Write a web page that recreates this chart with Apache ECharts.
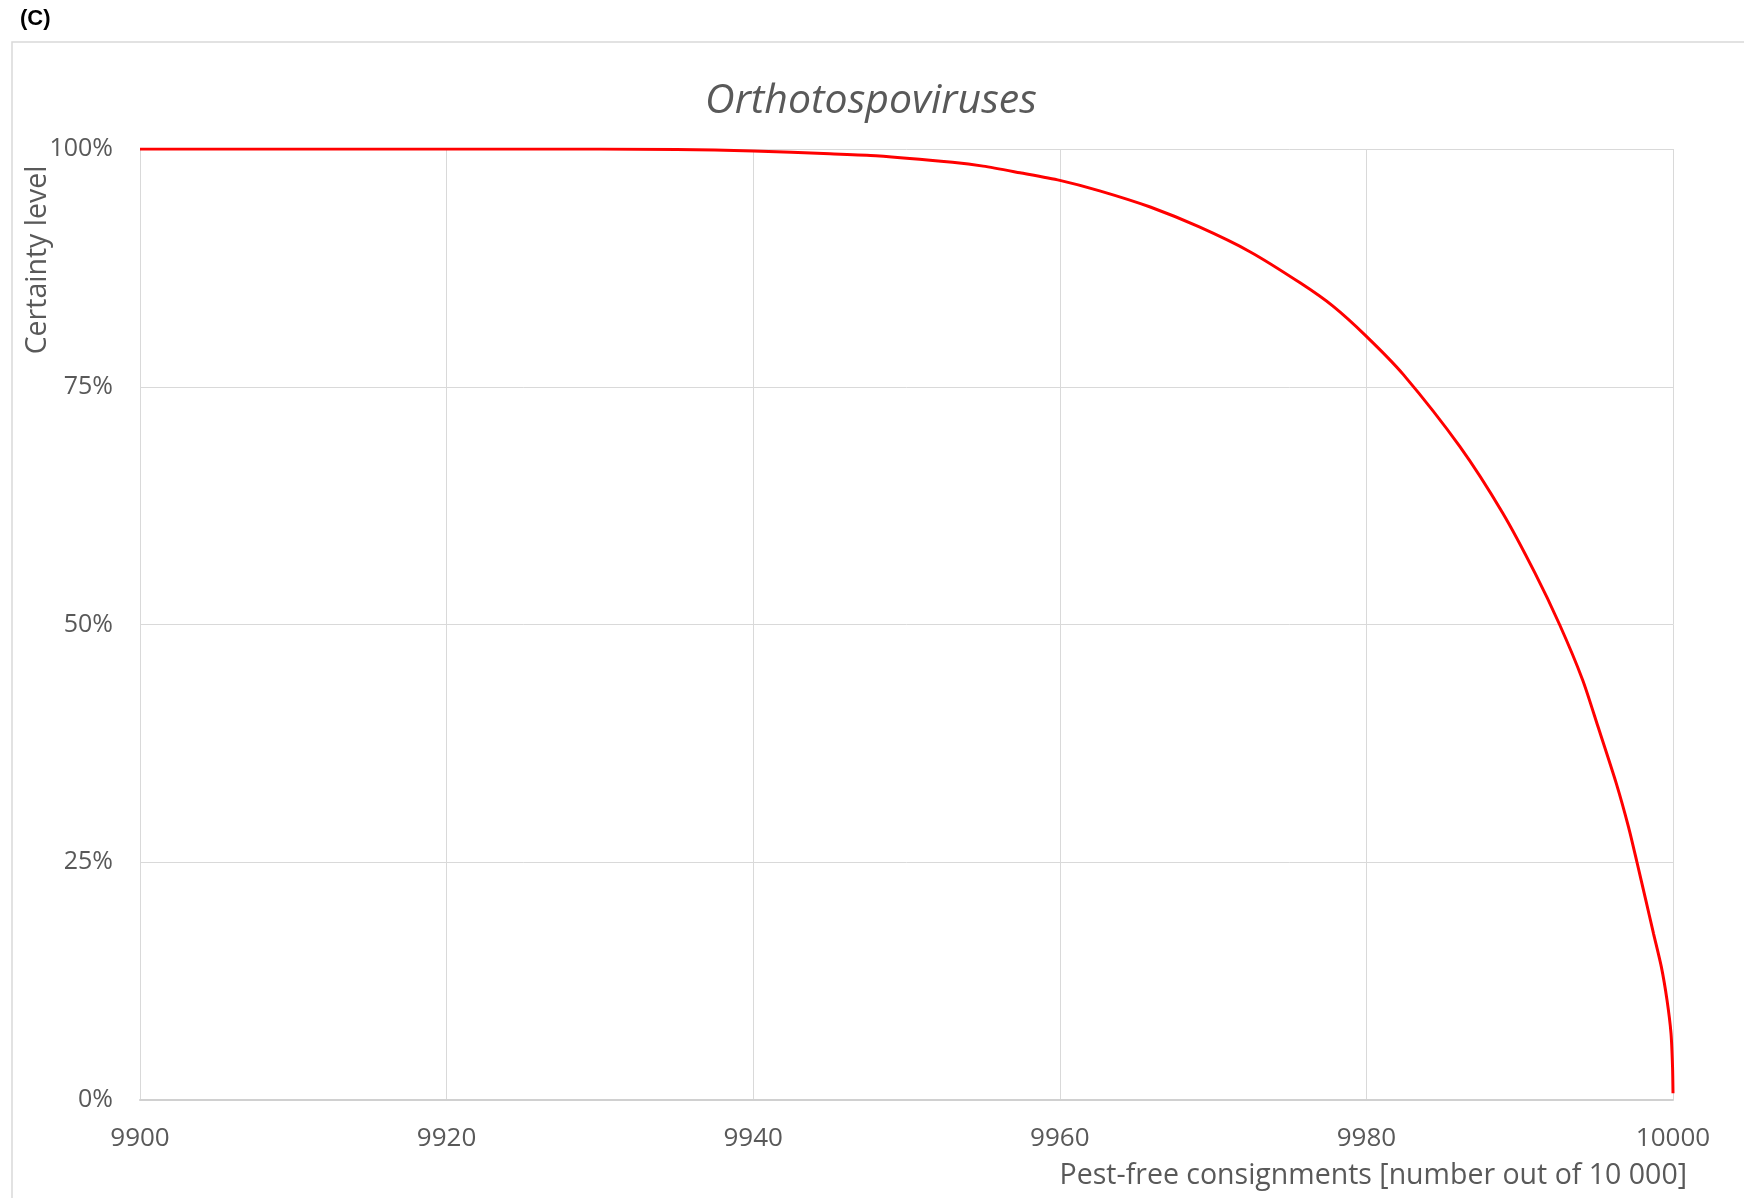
<!DOCTYPE html>
<html>
<head>
<meta charset="utf-8">
<script src="https://cdn.jsdelivr.net/npm/echarts@6/dist/echarts.min.js"></script>
<style>
html,body{margin:0;padding:0;background:#fff;}
#chart{width:1744px;height:1198px;}
</style>
</head>
<body>
<div id="chart"></div>
<script>
// Data
const panelLabel = "(C)";
const chartTitle = "Orthotospoviruses";
const xAxisTitle = "Pest-free consignments [number out of 10 000]";
const yAxisTitle = "Certainty level";
const xTicks = [9900, 9920, 9940, 9960, 9980, 10000];
const yTicks = [0, 25, 50, 75, 100];
const consignments = [9900, 9930, 9935, 9940, 9945, 9948, 9953, 9955, 9957.4, 9960, 9962.6, 9965.9, 9969.1, 9972.4, 9975.7, 9977.8, 9980, 9982.4, 9986.1, 9988.9, 9991.0, 9992.6, 9994.1, 9995.1, 9996.3, 9997.1, 9997.65, 9998.2, 9998.73, 9999.24, 9999.61, 9999.87, 9999.97, 10000];
const certainty = [100, 100, 99.95, 99.8, 99.5, 99.3, 98.6, 98.2, 97.5, 96.7, 95.6, 93.9, 91.8, 89.2, 85.9, 83.5, 80.3, 76.3, 68.7, 61.7, 55.4, 50.0, 44.2, 39.3, 33.3, 28.7, 25.0, 21.2, 17.5, 14.0, 10.5, 7.0, 3.5, 0.7];

const seriesData = consignments.map((x, i) => [x, certainty[i]]);
const font = "'Open Sans', 'Noto Sans', sans-serif";
const txtColor = "#595959";

const chart = echarts.init(document.getElementById('chart'), null, {renderer: 'canvas'});
chart.setOption({
  backgroundColor: '#ffffff',
  animation: false,
  title: {
    text: chartTitle,
    left: 866,
    textAlign: 'center',
    top: 76,
    textStyle: {fontFamily: font, fontStyle: 'italic', fontWeight: 'normal', fontSize: 41, color: txtColor}
  },
  grid: {left: 140, right: 71, top: 149, bottom: 98, containLabel: false},
  xAxis: {
    type: 'value',
    min: xTicks[0],
    max: xTicks[xTicks.length - 1],
    interval: xTicks[1] - xTicks[0],
    axisLine: {show: true, lineStyle: {color: '#d0d0d0', width: 2}},
    axisTick: {show: false},
    axisLabel: {margin: 26, fontFamily: font, fontSize: 26, color: txtColor, formatter: v => String(v)},
    splitLine: {show: true, lineStyle: {color: '#d9d9d9', width: 1}}
  },
  yAxis: {
    type: 'value',
    min: yTicks[0],
    max: yTicks[yTicks.length - 1],
    interval: yTicks[1] - yTicks[0],
    axisLine: {show: true, lineStyle: {color: '#d9d9d9', width: 1}},
    axisTick: {show: false},
    axisLabel: {margin: 27, fontFamily: font, fontSize: 25, color: txtColor, formatter: '{value}%'},
    splitLine: {show: true, lineStyle: {color: '#d9d9d9', width: 1}}
  },
  series: [{
    type: 'line',
    data: seriesData,
    showSymbol: false,
    smooth: 0.25,
    lineStyle: {color: '#ff0000', width: 3},
    itemStyle: {color: '#ff0000'}
  }],
  graphic: [
    {type: 'rect', shape: {x: 12, y: 42, width: 1800, height: 1300}, style: {fill: 'none', stroke: '#d9d9d9', lineWidth: 1.5}, z: -10, silent: true},
    {type: 'text', left: 20, top: 8, style: {text: panelLabel, font: "bold 22px 'Liberation Sans', Arial, sans-serif", fill: '#000'}},
    {type: 'text', x: 38, y: 260, rotation: Math.PI / 2, style: {text: yAxisTitle, font: "28.5px " + font, fill: txtColor, textAlign: 'center', textVerticalAlign: 'middle'}},
    {type: 'text', x: 1687, y: 1176, style: {text: xAxisTitle, font: "28.5px " + font, fill: txtColor, textAlign: 'right', textVerticalAlign: 'middle'}}
  ]
});
</script>
</body>
</html>
